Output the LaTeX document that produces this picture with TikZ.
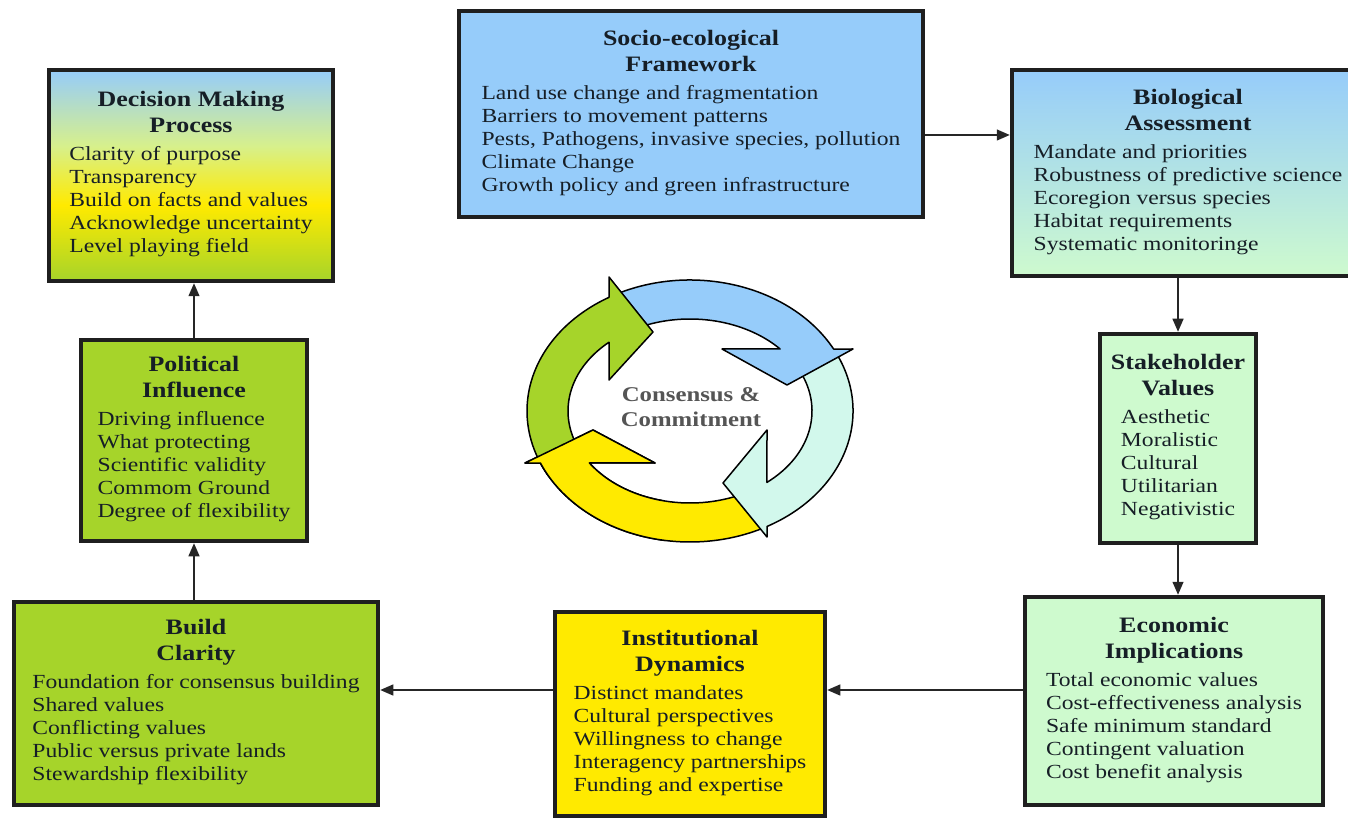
\documentclass[tikz,border=0pt]{standalone}
\usepackage{fontspec}
\setmainfont{Liberation Serif}[FakeStretch=1.18]
\usetikzlibrary{arrows.meta,positioning}
\definecolor{inkdark}{RGB}{22,30,38}
\definecolor{coregray}{RGB}{85,85,85}
\definecolor{skyblue}{RGB}{150,204,250}
\definecolor{limegreen}{RGB}{166,212,42}
\definecolor{palegreen}{RGB}{206,250,206}
\definecolor{sunyellow}{RGB}{255,234,0}
\definecolor{paleyellow}{RGB}{215,240,140}
\definecolor{mintcyan}{RGB}{210,248,236}
\pgfdeclareverticalshading{dmpshade}{100bp}{color(0bp)=(limegreen); color(25bp)=(limegreen); color(43bp)=(sunyellow); color(57bp)=(paleyellow); color(75bp)=(skyblue); color(100bp)=(skyblue)}
\newcommand{\headfont}{\fontsize{22}{25}\selectfont\bfseries}

\begin{document}
\begin{tikzpicture}[x=1pt,y=1pt,panel/.style={draw=black!88,line width=4.5pt,inner sep=0pt,align=center,text=inkdark,font=\fontsize{20}{23}\selectfont},flow/.style={-{Triangle[length=13pt,width=11pt]},line width=1.3pt,draw=black!85},ring/.style={draw=black,line width=1.5pt,line join=round}]
\useasboundingbox (0,0) rectangle (1348,820);
\node[panel,shading=dmpshade,minimum width=284,minimum height=211](dmp) at (191,644.5){\headfont Decision Making\\[3pt]\headfont Process\\[5pt]\begin{tabular}[t]{@{}l@{}}Clarity of purpose\\Transparency\\Build on facts and values\\Acknowledge uncertainty\\Level playing field\end{tabular}};
\node[panel,fill=skyblue,minimum width=464,minimum height=206](sef) at (691,706){\headfont Socio-ecological\\[3pt]\headfont Framework\\[5pt]\begin{tabular}[t]{@{}l@{}}Land use change and fragmentation\\Barriers to movement patterns\\Pests, Pathogens, invasive species, pollution\\Climate Change\\Growth policy and green infrastructure\end{tabular}};
\node[panel,top color=skyblue,bottom color=palegreen,minimum width=352,minimum height=206](ba) at (1188,647){\headfont Biological\\[3pt]\headfont Assessment\\[5pt]\begin{tabular}[t]{@{}l@{}}Mandate and priorities\\Robustness of predictive science\\Ecoregion versus species\\Habitat requirements\\Systematic monitoringe\end{tabular}};
\node[panel,fill=limegreen,minimum width=226,minimum height=201](pi) at (194,379.5){\headfont Political\\[3pt]\headfont Influence\\[5pt]\begin{tabular}[t]{@{}l@{}}Driving influence\\What protecting\\Scientific validity\\Commom Ground\\Degree of flexibility\end{tabular}};
\node[panel,fill=palegreen,minimum width=156,minimum height=209](sv) at (1178,381.5){\headfont Stakeholder\\[3pt]\headfont Values\\[5pt]\begin{tabular}[t]{@{}l@{}}Aesthetic\\Moralistic\\Cultural\\Utilitarian\\Negativistic\end{tabular}};
\node[panel,fill=limegreen,minimum width=364,minimum height=203](bc) at (196,116.5){\headfont Build\\[3pt]\headfont Clarity\\[5pt]\begin{tabular}[t]{@{}l@{}}Foundation for consensus building\\Shared values\\Conflicting values\\Public versus private lands\\Stewardship flexibility\end{tabular}};
\node[panel,fill=sunyellow,minimum width=270,minimum height=204](id) at (690,106){\headfont Institutional\\[3pt]\headfont Dynamics\\[5pt]\begin{tabular}[t]{@{}l@{}}Distinct mandates\\Cultural perspectives\\Willingness to change\\Interagency partnerships\\Funding and expertise\end{tabular}};
\node[panel,fill=palegreen,minimum width=298,minimum height=208](ei) at (1174,119){\headfont Economic\\[3pt]\headfont Implications\\[5pt]\begin{tabular}[t]{@{}l@{}}Total economic values\\Cost-effectiveness analysis\\Safe minimum standard\\Contingent valuation\\Cost benefit analysis\end{tabular}};
\draw[flow]([yshift=-21]sef.east)--([yshift=-21]sef.east-|ba.west);
\draw[flow](sv.north|-ba.south)--(sv.north);
\draw[flow](sv.south)--(sv.south|-ei.north);
\draw[flow]([yshift=11]ei.west)--([yshift=11]ei.west-|id.east);
\draw[flow]([yshift=24]id.west)--([yshift=24]id.west-|bc.east);
\draw[flow](pi.south|-bc.north)--(pi.south);
\draw[flow](pi.north)--(pi.north|-dmp.south);
% cycle of four arrows
\begin{scope}[shift={(690,409)}]
\def\yellowloop{(297:163 and 131) arc[start angle=297,end angle=203.4,x radius=163,y radius=131]--(-165,-52)--(-97,-19)--(-35,-52)--(214.4:122 and 92) arc[start angle=214.4,end angle=297,x radius=122,y radius=92]--cycle}
\draw[ring,fill=sunyellow]\yellowloop;
\draw[ring,fill=mintcyan](28:163 and 131) arc[start angle=28,end angle=-61.8,x radius=163,y radius=131]--(77,-126)--(33,-72)--(77,-19)--(-50.9:122 and 92) arc[start angle=-50.9,end angle=28,x radius=122,y radius=92]--cycle;
\draw[ring,fill=skyblue](118:163 and 131) arc[start angle=118,end angle=28.24,x radius=163,y radius=131]--(163,62)--(97,26)--(32,62)--(42.4:122 and 92) arc[start angle=42.4,end angle=118,x radius=122,y radius=92]--cycle;
\draw[ring,fill=limegreen](210:163 and 131) arc[start angle=210,end angle=119.8,x radius=163,y radius=131]--(-81,134)--(-37,79)--(-81,31)--(131.6:122 and 92) arc[start angle=131.6,end angle=210,x radius=122,y radius=92]--cycle;
\begin{scope}
\clip(-200,-160) rectangle (-25,-8);
\draw[ring,fill=sunyellow]\yellowloop;
\end{scope}
\end{scope}
\node[font=\fontsize{21}{25}\selectfont\bfseries,text=coregray,align=center](core) at (691,413){Consensus \&\\Commitment};
\end{tikzpicture}
\end{document}
